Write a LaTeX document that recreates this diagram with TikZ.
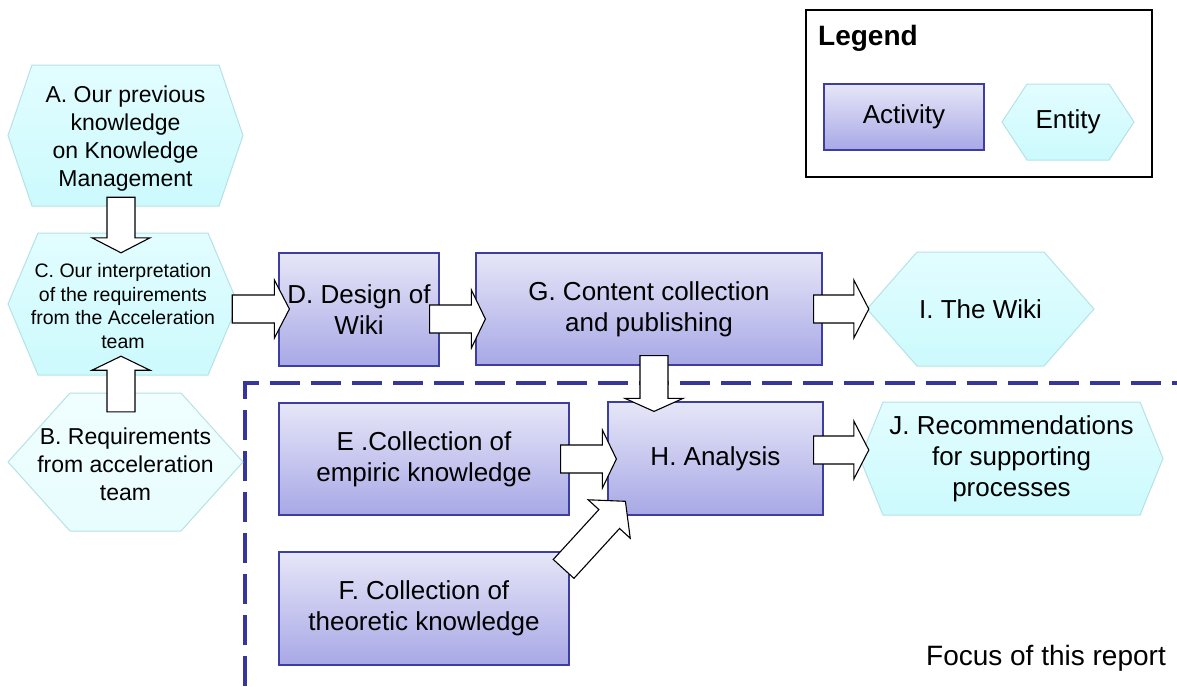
\documentclass[tikz,border=0pt]{standalone}
\usepackage{fontspec}
\setmainfont{Liberation Sans}
\usetikzlibrary{calc}

\definecolor{acttop}{RGB}{230,230,248}
\definecolor{actbot}{RGB}{168,168,230}
\definecolor{actborder}{RGB}{62,62,160}
\definecolor{enttop}{RGB}{226,253,255}
\definecolor{entbot}{RGB}{204,250,253}
\definecolor{entpaletop}{RGB}{240,254,255}
\definecolor{entpalebot}{RGB}{232,253,254}
\definecolor{entborder}{RGB}{181,226,230}
\definecolor{focusblue}{RGB}{55,55,155}

\tikzset{
  activity/.style={draw=actborder, line width=1.2pt, top color=acttop, bottom color=actbot,
    align=center, inner sep=0pt, font=\fontsize{26}{31}\selectfont},
  entityshape/.style={draw=entborder, line width=1pt, top color=enttop, bottom color=entbot},
  entitypale/.style={draw=entborder, line width=1pt, top color=entpaletop, bottom color=entpalebot},
  entitytext/.style={align=center, inner sep=0pt},
  bigtext/.style={font=\fontsize{26}{31}\selectfont},
  blockarrow/.style={draw=black, fill=white, line width=1.1pt, line join=miter},
  focusline/.style={draw=focusblue, line width=4.5pt, dash pattern=on 30pt off 11pt},
}

% hexagon entity: name, cx, cy, width, height, inset, shape style, text style, text
\newcommand\entitynode[9]{%
  \path[#7] ({#2-#4/2},#3) -- ({#2-#4/2+#6},{#3-#5/2}) -- ({#2+#4/2-#6},{#3-#5/2})
    -- ({#2+#4/2},#3) -- ({#2+#4/2-#6},{#3+#5/2}) -- ({#2-#4/2+#6},{#3+#5/2}) -- cycle;
  \node[entitytext, #8, minimum width=#4pt, minimum height=#5pt] (#1) at (#2,#3) {#9};
}

% block arrow: tail, tip, head length, head half-width (shaft is 28 wide)
\newcommand\fatarrow[4]{%
  \path (#1) coordinate (fa-t) (#2) coordinate (fa-h) ($(fa-h)!#3pt!(fa-t)$) coordinate (fa-b);
  \draw[blockarrow] ($(fa-t)!14pt!90:(fa-h)$) -- ($(fa-b)!14pt!90:(fa-h)$)
    -- ($(fa-b)!#4pt!90:(fa-h)$) -- (fa-h) -- ($(fa-b)!#4pt!-90:(fa-h)$)
    -- ($(fa-b)!14pt!-90:(fa-h)$) -- ($(fa-t)!14pt!-90:(fa-h)$) -- cycle;
}

\begin{document}
\begin{tikzpicture}[x=1pt, y=-1pt]
\useasboundingbox (0,0) rectangle (1177,686);

% focus region border
\draw[focusline] (245,686) -- (245,383) -- (1177,383);

% legend
\node[draw=black, line width=1.3pt, minimum width=346pt, minimum height=167pt, inner sep=0pt]
  (legend) at (979,93.5) {};
\node[anchor=base west, inner sep=0pt, font=\bfseries\fontsize{28}{34}\selectfont]
  (legtitle) at (818,45) {Legend};
\node[activity, minimum width=160pt, minimum height=66pt] (legact) at (904,117) {Activity};
\entitynode{legent}{1068}{122}{132}{76}{25}{entityshape}{bigtext}{Entity}

% entities
\entitynode{A}{125.5}{135.5}{235}{141}{24}{entityshape}{font=\fontsize{23}{28}\selectfont, yshift=-3pt}
  {A. Our previous\\knowledge\\on Knowledge\\Management}
\entitynode{C}{123}{304}{230}{142}{30}{entityshape}{font=\fontsize{19.5}{23.5}\selectfont, yshift=-2pt}
  {C. Our interpretation\\of the requirements\\from the Acceleration\\team}
\entitynode{B}{125.5}{462}{235}{138}{62}{entitypale}{font=\fontsize{23}{28}\selectfont, yshift=-2pt}
  {B. Requirements\\from acceleration\\team}
\entitynode{I}{980.5}{309}{227}{114}{50}{entityshape}{bigtext}{I. The Wiki}
\entitynode{J}{1011.5}{458.5}{303}{113}{23}{entityshape}{bigtext}
  {J. Recommendations\\for supporting\\processes}

% activities
\node[activity, minimum width=160pt, minimum height=113pt] (D) at (359,309.5) {D. Design of\\Wiki};
\node[activity, minimum width=346pt, minimum height=112pt] (G) at (649,309) {G. Content collection\\and publishing};
\node[activity, minimum width=290pt, minimum height=112pt] (E) at (424,459) {E .Collection of\\empiric knowledge};
\node[activity, minimum width=290pt, minimum height=113pt] (F) at (424,608.5) {F. Collection of\\theoretic knowledge};
\node[activity, minimum width=215pt, minimum height=113pt] (H) at (715.5,458.5) {H. Analysis};

\node[anchor=base east, inner sep=0pt, font=\fontsize{28}{33}\selectfont]
  (focus) at (1166,665) {Focus of this report};

% connector ends
\coordinate (ac-tail) at ($(A.south)+(-4.5,-12)$);
\coordinate (ac-tip)  at ($(C.north)+(-2,18)$);
\coordinate (bc-tail) at ($(B.north)+(-4.5,17)$);
\coordinate (bc-tip)  at ($(C.south)+(-2,-21)$);
\coordinate (cd-tail) at ($(C.east)+(-6,3)$);
\coordinate (cd-tip)  at ($(D.west)+(11,-0.5)$);
\coordinate (dg-tail) at ($(D.east)+(-10,9.5)$);
\coordinate (dg-tip)  at ($(G.west)+(10,10)$);
\coordinate (gi-tail) at ($(G.east)+(-9,0)$);
\coordinate (gi-tip)  at ($(I.west)+(2,0)$);
\coordinate (gh-tail) at ($(G.south)+(5,-10)$);
\coordinate (gh-tip)  at ($(H.north)+(-61.5,10)$);
\coordinate (eh-tail) at ($(E.east)+(-9,0)$);
\coordinate (eh-tip)  at ($(H.west)+(9,0.5)$);
\coordinate (hj-tail) at ($(H.east)+(-10,-8.5)$);
\coordinate (hj-tip)  at ($(J.west)+(9,-8.5)$);
\coordinate (fh-tail) at ($(F.north east)+(-6,17.5)$);
\coordinate (fh-tip)  at ($(H.south west)+(18,-14.3)$);

% block arrows
\fatarrow{ac-tail}{ac-tip}{15}{29}
\fatarrow{bc-tail}{bc-tip}{14}{29}
\fatarrow{cd-tail}{cd-tip}{15}{29}
\fatarrow{dg-tail}{dg-tip}{14}{29}
\fatarrow{gi-tail}{gi-tip}{15}{29}
\fatarrow{gh-tail}{gh-tip}{13}{29}
\fatarrow{eh-tail}{eh-tip}{14}{29}
\fatarrow{hj-tail}{hj-tip}{15}{29}
\fatarrow{fh-tail}{fh-tip}{24}{28.5}
\end{tikzpicture}
\end{document}
